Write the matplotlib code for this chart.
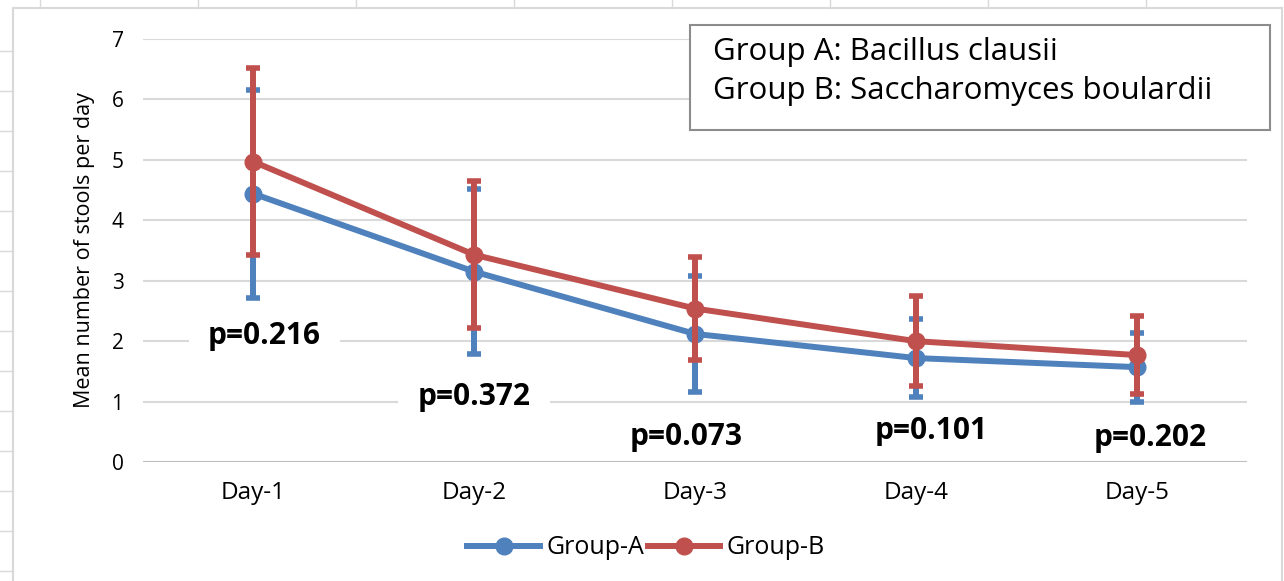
import matplotlib
matplotlib.use("Agg")
import matplotlib.pyplot as plt
from matplotlib.lines import Line2D
from matplotlib.patches import Rectangle

plt.rcParams['font.family'] = ['Open Sans', 'DejaVu Sans']

days = ['Day-1', 'Day-2', 'Day-3', 'Day-4', 'Day-5']
group_a = [4.44, 3.15, 2.12, 1.72, 1.57]
group_a_err = [1.72, 1.36, 0.96, 0.65, 0.57]
group_b = [4.97, 3.43, 2.54, 2.00, 1.77]
group_b_err = [1.55, 1.22, 0.86, 0.75, 0.64]
p_labels = ['p=0.216', 'p=0.372', 'p=0.073', 'p=0.101', 'p=0.202']
p_y = [2.08, 1.08, 0.42, 0.51, 0.39]
p_x = [1.05, 2.0, 2.96, 4.07, 5.06]
p_boxed = [True, True, False, False, False]

blue = '#4F81BD'
red = '#C0504D'
W, H = 1284, 581

fig = plt.figure(figsize=(12.84, 5.81), dpi=100)
ax = fig.add_axes([143 / W, 1 - 462 / H, (1247 - 143) / W, (462 - 39) / H])

x = list(range(1, len(days) + 1))
ax.errorbar(x, group_a, yerr=group_a_err, fmt='-o', color=blue, lw=4.3, ms=12,
            elinewidth=4.3, capsize=5, capthick=4, zorder=3)
ax.errorbar(x, group_b, yerr=group_b_err, fmt='-o', color=red, lw=4.3, ms=12,
            elinewidth=4.3, capsize=5, capthick=4, zorder=4)

for xi, yi, t, boxed in zip(p_x, p_y, p_labels, p_boxed):
    bb = dict(boxstyle='square,pad=0.65', fc='white', ec='none') if boxed else None
    ax.text(xi, yi, t, ha='center', va='center', fontsize=21.5, fontweight='bold',
            color='black', zorder=2, bbox=bb)

ax.set_xlim(0.5, 5.5)
ax.set_ylim(0, 7)
ax.set_yticks(range(0, 8))
ax.set_xticks(x)
ax.set_xticklabels(days)
ax.tick_params(length=0, colors='black')
ax.tick_params(axis='y', pad=14, labelsize=15)
ax.tick_params(axis='x', pad=14, labelsize=17.5)
for s in ax.spines.values():
    s.set_visible(False)
ax.grid(axis='y', color='#D9D9D9', lw=1.5, zorder=0)
ax.set_axisbelow(True)
ax.axhline(0, color='#BFBFBF', lw=1.5, zorder=1)
ax.set_ylabel('Mean number of stools per day', fontsize=15.5, labelpad=12)

handles = [Line2D([], [], color=blue, lw=4.3, marker='o', ms=12),
           Line2D([], [], color=red, lw=4.3, marker='o', ms=12)]
fig.legend(handles, ['Group-A', 'Group-B'], loc='center', ncol=2,
           bbox_to_anchor=(646 / W, 1 - 548 / H), frameon=False, fontsize=18,
           handlelength=2.9, columnspacing=0.15, handletextpad=0.25)

# annotation box
fig.patches.append(Rectangle((690 / W, 1 - 130 / H), 580 / W, 105 / H,
                             transform=fig.transFigure, fc='white', ec='#8C8C8C', lw=1.5))
fig.text(713 / W, 1 - 52 / H, 'Group A: Bacillus clausii', fontsize=22.5, va='center')
fig.text(713 / W, 1 - 91 / H, 'Group B: Saccharomyces boulardii', fontsize=22.5, va='center')

# chart border and sheet cells behind
g = '#D9D9D9'
fig.add_artist(Line2D([13 / W, 13 / W], [0, 1 - 8 / H], color=g, lw=1.5))
fig.add_artist(Line2D([13 / W, 1282 / W], [1 - 8 / H, 1 - 8 / H], color=g, lw=1.5))
fig.add_artist(Line2D([1282 / W, 1282 / W], [0, 1 - 8 / H], color=g, lw=1.5))
for cx in range(40, 1284, 158):
    fig.add_artist(Line2D([cx / W, cx / W], [1 - 8 / H, 1], color=g, lw=1))
for cy in range(51, 581, 40):
    fig.add_artist(Line2D([0, 13 / W], [1 - cy / H, 1 - cy / H], color=g, lw=1))

fig.savefig('out.png', dpi=100)
